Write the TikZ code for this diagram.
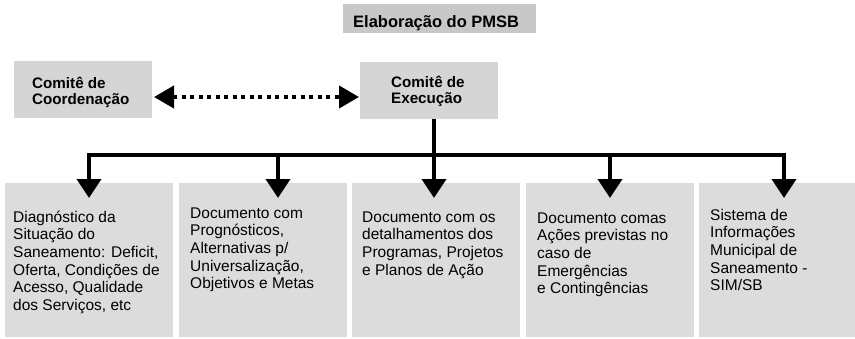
\documentclass[tikz,border=0pt]{standalone}
\usepackage{fontspec}
\setmainfont{Liberation Sans}
\usetikzlibrary{arrows.meta,calc}
\definecolor{titlegray}{HTML}{C8C8C8}
\definecolor{headgray}{HTML}{D5D5D5}
\definecolor{boxgray}{HTML}{DCDCDC}
\begin{document}
\begin{tikzpicture}[x=1pt,y=-1pt,
  panel/.style={draw=none, inner sep=0pt, outer sep=0pt},
  titlebox/.style={panel, fill=titlegray},
  headbox/.style={panel, fill=headgray, minimum width=138pt, minimum height=57pt},
  docbox/.style={panel, fill=boxgray, minimum width=168pt, minimum height=154pt, anchor=north west},
  headtext/.style={inner sep=0pt, anchor=base west, align=left, font=\fontsize{15.2}{16}\selectfont\bfseries},
  titletext/.style={inner sep=0pt, anchor=base west, font=\fontsize{16.5}{18}\selectfont\bfseries},
  doctext/.style={inner sep=0pt, anchor=base west, align=left, font=\fontsize{15.5}{17.7}\selectfont},
  conn/.style={line width=4pt, line join=miter},
  tip/.style={-{Triangle[length=19pt,width=24pt]}},
  dotarrow/.style={line width=4pt, dash pattern=on 4pt off 4.5pt,
    {Triangle[length=20pt,width=22pt]}-{Triangle[length=20pt,width=22pt]}}
]
\useasboundingbox (0,0) rectangle (855,338);
\clip (0,0) rectangle (855,338);

% title
\node[titlebox, minimum width=193pt, minimum height=29pt] (title) at (439.5,18.5) {};
\node[titletext] (titlet) at (353,27) {Elaboração do PMSB};

% committees (base anchor = baseline of last line)
\node[headbox] (coord) at (83,89.5) {};
\node[headtext] (coordt) at (32,104) {Comitê de\\Coordenação};
\node[headbox] (exec) at (429,90) {};
\node[headtext] (exect) at (391,103) {Comitê de\\Execução};

% document boxes
\node[docbox] (b1) at (5,183) {};
\node[docbox] (b2) at (179,183) {};
\node[docbox] (b3) at (352,183) {};
\node[docbox] (b4) at (526,183) {};
\node[docbox] (b5) at (699,183) {};

\node[doctext] (t1) at (13,310.5) {Diagnóstico da\\Situação do\\Saneamento: Deficit,\\Oferta, Condições de\\Acesso, Qualidade\\dos Serviços, etc};
\node[doctext] (t2) at (190,288.8) {Documento com\\Prognósticos,\\Alternativas p/\\Universalização,\\Objetivos e Metas};
\node[doctext] (t3) at (362,275.1) {Documento com os\\detalhamentos dos\\Programas, Projetos\\e Planos de Ação};
\node[doctext] (t4) at (537,293.8) {Documento comas\\Ações previstas no\\caso de\\Emergências\\e Contingências};
\node[doctext] (t5) at (710,290.8) {Sistema de\\Informações\\Municipal de\\Saneamento -\\SIM/SB};

% dotted double arrow
\draw[dotarrow] ([xshift=2pt,yshift=-7.5pt]coord.east) -- ([xshift=-1pt,yshift=-7pt]exec.west);

% tree connectors
\coordinate (jc) at (434,155);
\coordinate (p1) at (89,198);
\coordinate (p2) at (278,198);
\coordinate (p3) at (434,198);
\coordinate (p4) at (610,198);
\coordinate (p5) at (784,198);

\draw[conn] (exec.south -| jc) -- (jc);
\draw[conn, {Triangle[length=19pt,width=24pt]}-{Triangle[length=19pt,width=24pt]}]
  (p1) -- (p1 |- jc) -- (p5 |- jc) -- (p5);
\draw[conn, tip] (p2 |- jc) -- (p2);
\draw[conn, tip] (jc) -- (p3);
\draw[conn, tip] (p4 |- jc) -- (p4);
\end{tikzpicture}
\end{document}
